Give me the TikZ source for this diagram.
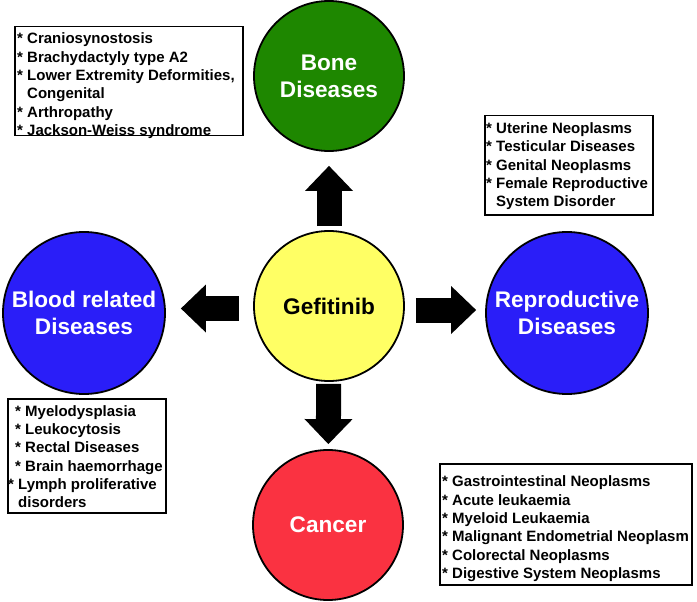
\documentclass[tikz,border=0pt]{standalone}
\usepackage{fontspec}
\setmainfont{Liberation Sans}
\usetikzlibrary{arrows.meta,calc}
\definecolor{bonegreen}{RGB}{30,135,0}
\definecolor{gefyellow}{RGB}{255,255,100}
\definecolor{disblue}{RGB}{42,30,248}
\definecolor{canred}{RGB}{250,50,65}
\begin{document}
\begin{tikzpicture}[x=1pt,y=-1pt,
  disease/.style={circle, draw=black, line width=1.8pt, inner sep=0pt, minimum size=150pt,
    text=white, font=\fontsize{22.6}{27}\selectfont\bfseries, align=center},
  listbox/.style={draw=black, line width=1.5pt, fill=white, inner sep=0pt, anchor=north west},
  listtext/.style={inner sep=0pt, anchor=west, align=left,
    font=\fontsize{15}{18.3}\selectfont\bfseries},
  fat/.style={draw=black, line width=25pt,
    -{Triangle[length=25pt 0 1, width=48pt 0 1, line width=0pt 0 0]}}
]
\useasboundingbox (0,0) rectangle (697,602);

% circles
\node[disease, fill=gefyellow, text=black] (g) at (329,306) {Gefitinib};
\node[disease, fill=bonegreen] (bone) at (329,76) {Bone\\Diseases};
\node[disease, fill=canred] (cancer) at (328,525) {Cancer};
\node[disease, fill=disblue, minimum size=162pt] (blood) at (84,313) {Blood related\\Diseases};
\node[disease, fill=disblue, minimum size=162pt] (repro) at (567,313) {Reproductive\\Diseases};

% arrows
\draw[fat, shorten <=4pt, shorten >=14pt] (g) -- (bone);
\draw[fat, shorten <=2pt, shorten >=5pt] (g) -- (cancer);
\draw[fat, shorten <=14pt, shorten >=15pt] ($(g.west)+(0,2.5)$) -- ($(blood.east |- g.west)+(0,2.5)$);
\draw[fat, shorten <=11pt, shorten >=9pt] ($(g.east)+(0,4)$) -- ($(repro.west |- g.east)+(0,4)$);

% lists
\node[listbox, minimum width=228pt, minimum height=109pt] (b1) at (14,26) {};
\node[listtext] (b1t) at ($(b1.west)+(3,4.5)$) {* Craniosynostosis\\
* Brachydactyly type A2\\
* Lower Extremity Deformities,\\
\hphantom{*~}Congenital\\
* Arthropathy\\
* Jackson-Weiss syndrome};

\node[listbox, minimum width=168pt, minimum height=99pt] (b2) at (484,115) {};
\node[listtext] (b2t) at ($(b2.west)+(2,1)$) {* Uterine Neoplasms\\
* Testicular Diseases\\
* Genital Neoplasms\\
* Female Reproductive\\
\hphantom{*~}System Disorder};

\node[listbox, minimum width=158pt, minimum height=114pt] (b3) at (7,398) {};
\node[listtext] (b3t) at ($(b3.west)+(1,1)$) {\hspace*{7pt}* Myelodysplasia\\
\hspace*{7pt}* Leukocytosis\\
\hspace*{7pt}* Rectal Diseases\\
\hspace*{7pt}* Brain haemorrhage\\
* Lymph proliferative\\
\hphantom{*~}disorders};

\node[listbox, minimum width=252pt, minimum height=121pt] (b4) at (439,463) {};
\node[listtext] (b4t) at ($(b4.west)+(3,4.5)$) {* Gastrointestinal Neoplasms\\
* Acute leukaemia\\
* Myeloid Leukaemia\\
* Malignant Endometrial Neoplasm\\
* Colorectal Neoplasms\\
* Digestive System Neoplasms};
\end{tikzpicture}
\end{document}
